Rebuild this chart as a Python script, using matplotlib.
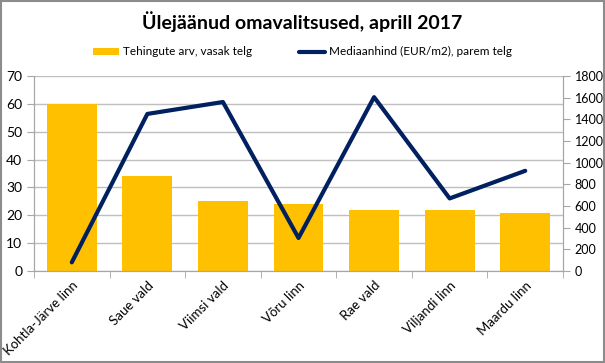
import matplotlib.pyplot as plt
import numpy as np
from matplotlib.patches import Rectangle

plt.rcParams['font.family'] = ['Lato', 'DejaVu Sans']

# Andmed
omavalitsused = ['Kohtla-Järve linn', 'Saue vald', 'Viimsi vald', 'Võru linn',
                 'Rae vald', 'Viljandi linn', 'Maardu linn']
tehingud = [60, 34, 25, 24, 22, 22, 21]
mediaanhind = [80, 1450, 1560, 305, 1605, 670, 925]

bar_color = '#FFC000'
line_color = '#002060'
axis_gray = '#A6A6A6'

fig = plt.figure(figsize=(6.05, 3.63), dpi=100)
fig.patches.append(Rectangle((0.002, 0.003), 0.996, 0.994, transform=fig.transFigure,
                             fill=False, edgecolor='#8C8C8C', linewidth=1.5))
ax = fig.add_axes([0.0562, 0.2534, 0.8744, 0.5372])
ax2 = ax.twinx()

x = np.arange(len(omavalitsused))
ax.bar(x, tehingud, width=0.66, color=bar_color, zorder=2,
       label='Tehingute arv, vasak telg')
ax2.plot(x, mediaanhind, color=line_color, linewidth=3, solid_capstyle='round',
         label='Mediaanhind (EUR/m2), parem telg')

ax.set_xlim(-0.5, len(x) - 0.5)
ax.set_ylim(0, 70)
ax.set_yticks(range(0, 71, 10))
ax2.set_ylim(0, 1800)
ax2.set_yticks(range(0, 1801, 200))

ax.grid(axis='y', color='#BFBFBF', linewidth=1, zorder=0)
ax.set_axisbelow(True)

ax.set_xticks(x)
ax.set_xticklabels(omavalitsused, rotation=45, ha='right', rotation_mode='anchor',
                   fontsize=9.5)
ax.set_xticks(np.arange(-0.5, len(x), 1), minor=True)
ax.tick_params(axis='x', which='major', length=0, pad=6)
ax.tick_params(axis='x', which='minor', length=5, color=axis_gray)
ax.tick_params(axis='y', length=5, color=axis_gray, labelsize=10)
ax2.tick_params(axis='y', length=5, color=axis_gray, labelsize=9)

for a in (ax, ax2):
    a.spines['top'].set_visible(False)
    for s in ('left', 'right', 'bottom'):
        a.spines[s].set_color(axis_gray)

fig.text(0.5, 0.94, 'Ülejäänud omavalitsused, aprill 2017', ha='center', va='center',
         fontsize=14, fontweight='bold')

h1, l1 = ax.get_legend_handles_labels()
h2, l2 = ax2.get_legend_handles_labels()
fig.legend(h1 + h2, l1 + l2, loc='center', bbox_to_anchor=(0.5, 0.857), ncol=2,
           frameon=False, fontsize=8.5, handlelength=2.2, handleheight=0.5,
           columnspacing=4, handletextpad=0.3)

fig.savefig('out.png', dpi=100)
